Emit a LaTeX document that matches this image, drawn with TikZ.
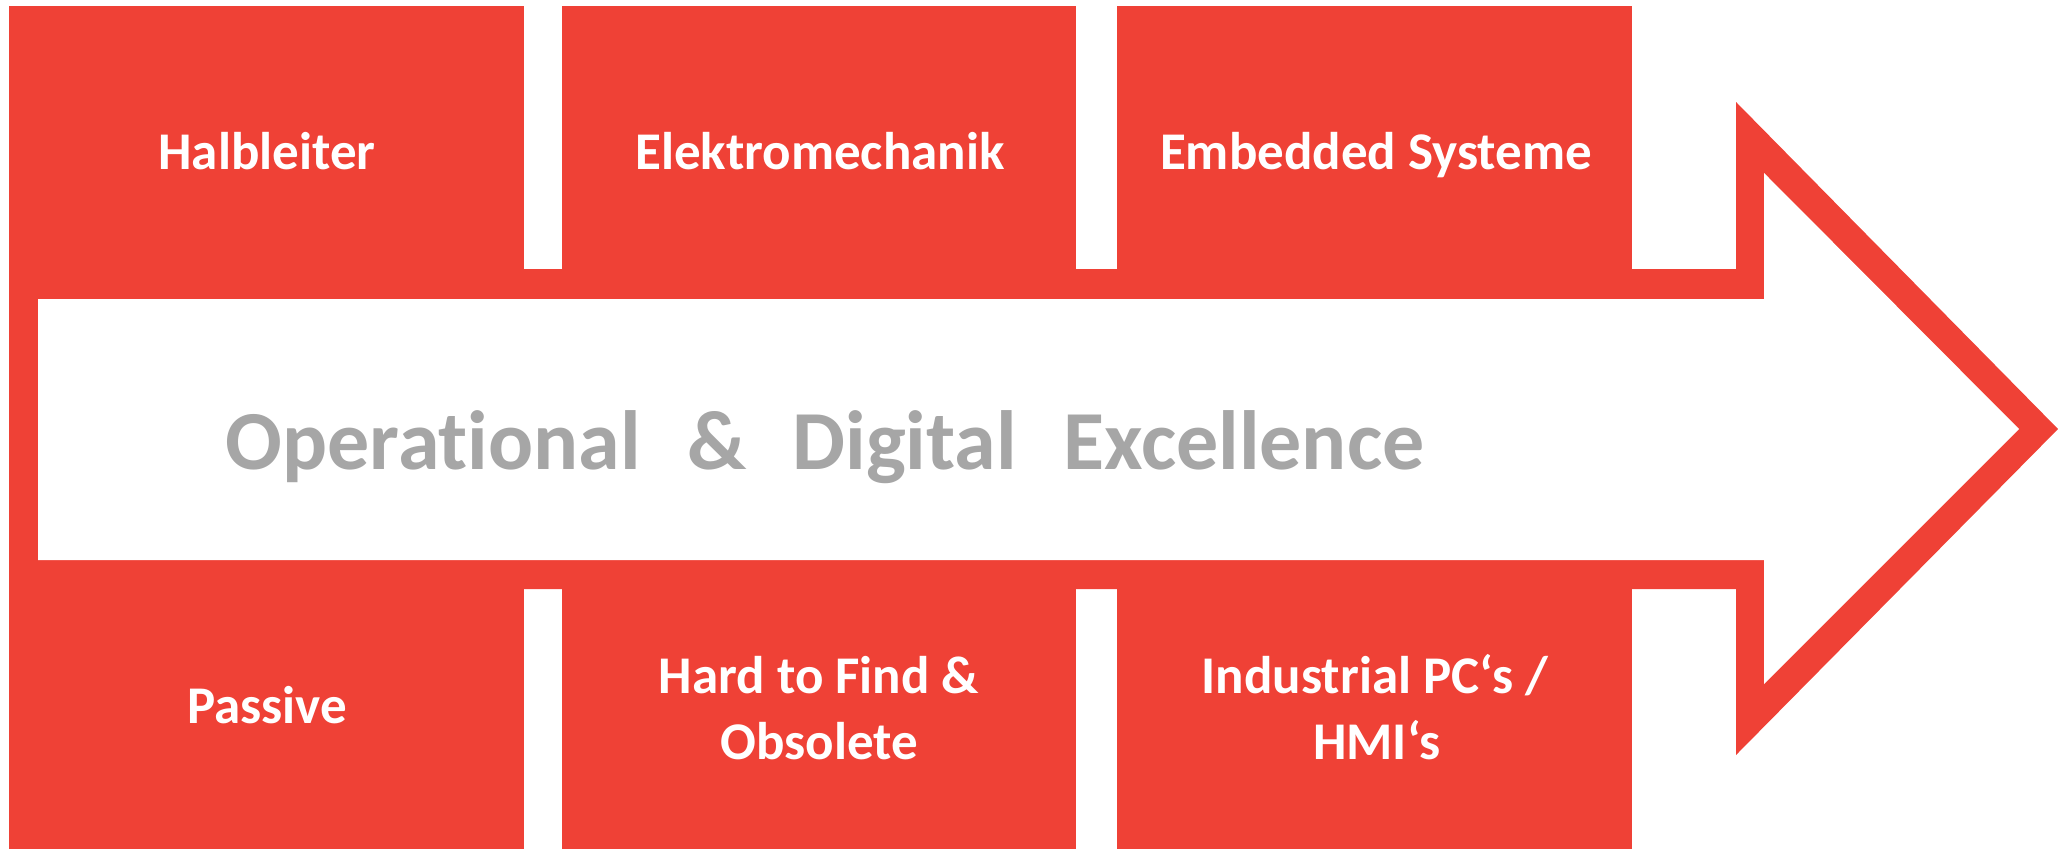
\documentclass[tikz,border=0pt]{standalone}
\usepackage{fontspec}
\setmainfont{Carlito}[Ligatures=NoCommon]
\definecolor{bred}{RGB}{239,65,54}
\definecolor{tgray}{RGB}{166,166,166}
\tikzset{
  box/.style={fill=bred, draw=none, inner sep=0pt},
  lbl/.style={text=white, font=\fontsize{53}{66}\selectfont\bfseries, align=center, inner sep=0pt},
  ttl/.style={text=tgray, font=\fontsize{84}{100}\selectfont\bfseries, inner sep=0pt}
}
\begin{document}
\begin{tikzpicture}[x=1pt,y=-1pt]
\useasboundingbox (0,0) rectangle (2058,849);
% boxes
\path[box] (9,6) rectangle (524,280) node[pos=0.5] (b1) {};
\path[box] (562,6) rectangle (1076,280) node[pos=0.5] (b2) {};
\path[box] (1117,6) rectangle (1632,280) node[pos=0.5] (b3) {};
\path[box] (9,580) rectangle (524,849) node[pos=0.5] (b4) {};
\path[box] (562,580) rectangle (1076,849) node[pos=0.5] (b5) {};
\path[box] (1117,580) rectangle (1632,849) node[pos=0.5] (b6) {};
% arrow outline
\fill[bred] (9,269) -- (1736,269) -- (1736,102) -- (2058,429) -- (1736,755) -- (1736,589) -- (9,589) -- cycle;
\fill[white] (38,299) -- (1764,299) -- (1764,173) -- (2019,429) -- (1764,684) -- (1764,560) -- (38,560) -- cycle;
% labels
\node[lbl, anchor=base] (t1) at (267,169) {Halbleiter};
\node[lbl, anchor=base] (t2) at (820,169) {Elektromechanik};
\node[lbl, anchor=base] (t3) at (1376,169) {Embedded Systeme};
\node[lbl, anchor=base] (t4) at (267,723) {Passive};
\node[lbl, anchor=base] (t5a) at (819,693) {Hard to Find \&};
\node[lbl, anchor=base] (t5b) at (819,759) {Obsolete};
\node[lbl, anchor=base] (t6a) at (1375,693) {Industrial PC‘s /};
\node[lbl, anchor=base] (t6b) at (1377,759) {HMI‘s};
\node[ttl, anchor=base] (title) at (825,469) {Operational\hspace{0.55em}\&\hspace{0.55em}Digital\hspace{0.55em}Excellence};
\end{tikzpicture}
\end{document}
